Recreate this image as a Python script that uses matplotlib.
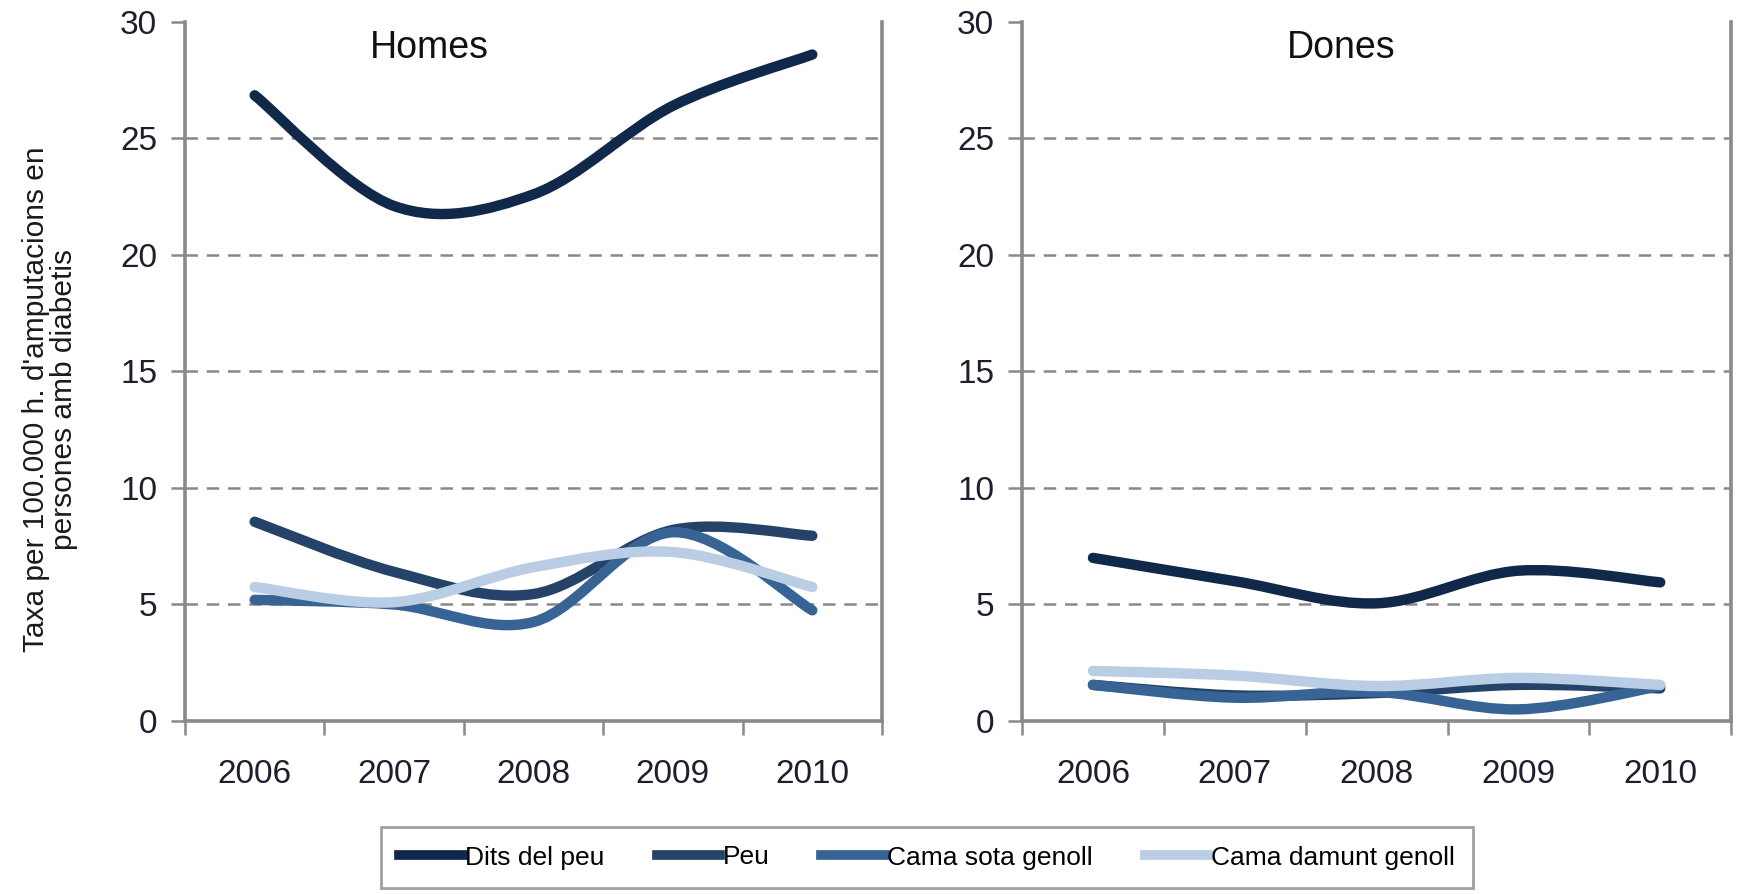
import matplotlib
matplotlib.use("Agg")
import matplotlib.pyplot as plt
from matplotlib.path import Path
from matplotlib.patches import PathPatch
from matplotlib.lines import Line2D
from matplotlib import font_manager

names = {f.name for f in font_manager.fontManager.ttflist}
base_font = "Liberation Sans" if "Liberation Sans" in names else "DejaVu Sans"
plt.rcParams['font.family'] = [base_font, 'DejaVu Sans']

years = ["2006", "2007", "2008", "2009", "2010"]
series_names = ["Dits del peu", "Peu", "Cama sota genoll", "Cama damunt genoll"]
colors = ["#10284a", "#254369", "#376494", "#b9cde5"]

homes_dits = [26.85, 22.1, 22.6, 26.4, 28.6]
homes_peu = [8.55, 6.4, 5.45, 8.2, 7.95]
homes_sota = [5.2, 5.0, 4.25, 8.1, 4.75]
homes_damunt = [5.75, 5.1, 6.6, 7.25, 5.75]

dones_dits = [7.0, 6.0, 5.05, 6.45, 5.95]
dones_peu = [1.55, 1.1, 1.2, 1.55, 1.4]
dones_sota = [1.55, 1.0, 1.25, 0.5, 1.5]
dones_damunt = [2.15, 1.95, 1.5, 1.85, 1.55]

yticks = [0, 5, 10, 15, 20, 25, 30]
gray = "#898989"


def smooth_path(xs, ys):
    n = len(xs)
    pts = list(zip(xs, ys))
    verts = [pts[0]]
    codes = [Path.MOVETO]
    for i in range(n - 1):
        p0 = pts[i - 1] if i > 0 else pts[i]
        p1 = pts[i]
        p2 = pts[i + 1]
        p3 = pts[i + 2] if i + 2 < n else pts[i + 1]
        c1 = (p1[0] + (p2[0] - p0[0]) / 6.0, p1[1] + (p2[1] - p0[1]) / 6.0)
        c2 = (p2[0] - (p3[0] - p1[0]) / 6.0, p2[1] - (p3[1] - p1[1]) / 6.0)
        verts += [c1, c2, p2]
        codes += [Path.CURVE4] * 3
    return Path(verts, codes)


fig = plt.figure(figsize=(17.4, 8.94), dpi=100)
ax1 = fig.add_axes([0.1063, 0.1935, 0.4006, 0.782])
ax2 = fig.add_axes([0.5874, 0.1935, 0.4075, 0.782])

panels = [
    (ax1, "Homes", [homes_dits, homes_peu, homes_sota, homes_damunt], 0.35),
    (ax2, "Dones", [dones_dits, dones_peu, dones_sota, dones_damunt], 0.45),
]

xpos = list(range(len(years)))
for ax, title, data, tx in panels:
    ax.set_xlim(-0.5, len(years) - 0.5)
    ax.set_ylim(0, 30)
    for v in yticks[1:-1]:
        ax.axhline(v, color=gray, lw=1.8, ls=(0, (5, 3.5)), zorder=1)
    for vals, col in zip(data, colors):
        pp = PathPatch(smooth_path(xpos, vals), facecolor='none', edgecolor=col,
                       lw=7.5, capstyle='round', joinstyle='round', zorder=3)
        ax.add_patch(pp)
    for s in ['left', 'bottom', 'right']:
        ax.spines[s].set_color(gray)
        ax.spines[s].set_linewidth(2.6)
    ax.spines['top'].set_visible(False)
    ax.set_yticks(yticks)
    ax.set_yticklabels([str(v) for v in yticks])
    ax.tick_params(axis='y', direction='out', length=10, width=1.8, color=gray,
                   labelsize=24, pad=10, labelcolor="#1e1e2e")
    ax.set_xticks([i - 0.5 for i in range(len(years) + 1)])
    ax.set_xticklabels([])
    ax.set_xticks(xpos, minor=True)
    ax.set_xticklabels(years, minor=True)
    ax.tick_params(axis='x', which='major', direction='out', length=10, width=1.8, color=gray)
    ax.tick_params(axis='x', which='minor', length=0, labelsize=24, pad=27, labelcolor="#1e1e2e")
    ax.text(tx, 0.962, title, transform=ax.transAxes, ha='center', va='center',
            fontsize=27, color="#111111")

fig.text(0.0287, 0.553, "Taxa per 100.000 h. d'amputacions en\npersones amb diabetis",
         rotation=90, ha='center', va='center', fontsize=21.5, color="#1a1a1a",
         linespacing=1.0)

handles = [Line2D([], [], color=c, lw=7) for c in colors]
leg = fig.legend(handles, series_names, loc='center',
                 bbox_to_anchor=(381 / 1740, 1 - 892 / 894, 1092 / 1740, 69 / 894),
                 mode='expand', ncol=4, frameon=True, fancybox=False,
                 handlelength=2.4, handletextpad=0.1, columnspacing=0.6,
                 borderpad=0.7, borderaxespad=0.0,
                 prop={'size': 19})
leg.get_frame().set_edgecolor(gray)
leg.get_frame().set_linewidth(2.0)

fig.savefig("out.png", dpi=100)
